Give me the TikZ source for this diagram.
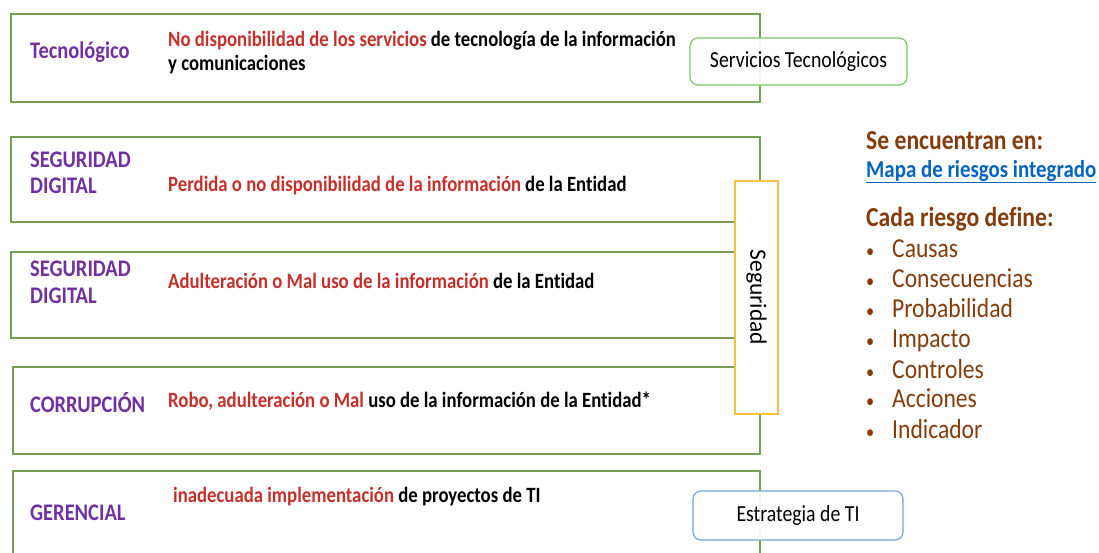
\documentclass[tikz,border=0pt]{standalone}
\usepackage{fontspec}
\setmainfont[FakeStretch=0.86,Ligatures={NoCommon}]{Carlito}
\newfontfamily\plainfont[Ligatures={NoCommon}]{Carlito}
\definecolor{boxgreen}{RGB}{118,158,84}
\definecolor{labpurple}{RGB}{112,48,160}
\definecolor{riskred}{RGB}{196,48,43}
\definecolor{sidebrown}{RGB}{132,60,12}
\definecolor{linkblue}{RGB}{5,99,193}
\definecolor{svcgreen}{RGB}{125,200,105}
\definecolor{stratblue}{RGB}{115,165,220}
\definecolor{secyellow}{RGB}{248,192,64}
\begin{document}
\begin{tikzpicture}[x=1pt,y=-1pt,
  riskbox/.style={draw=boxgreen, line width=1.2pt, inner sep=0pt},
  catlabel/.style={anchor=base west, inner sep=0pt, text=labpurple, font=\fontsize{23.8}{26}\selectfont\bfseries},
  bodytxt/.style={anchor=base west, inner sep=0pt, font=\fontsize{21.8}{24}\selectfont\bfseries},
  tagbox/.style={rounded corners=8pt, line width=1.2pt, fill=white, fill opacity=0.9, text opacity=1, inner sep=0pt, font=\fontsize{23}{26}\selectfont},
  secbox/.style={draw=secyellow, line width=1.2pt, fill=white, inner sep=0pt, font=\plainfont\fontsize{23.5}{26}\selectfont},
  sidehead/.style={anchor=base west, inner sep=0pt, text=sidebrown, font=\fontsize{27.5}{30}\selectfont\bfseries},
  bulletdot/.style={anchor=base west, inner sep=0pt, text=sidebrown, font=\fontsize{19}{30}\selectfont},
  bullettxt/.style={anchor=base west, inner sep=0pt, text=sidebrown, font=\fontsize{27.4}{30}\selectfont}
]
\useasboundingbox (0,0) rectangle (1099,552);
\clip (0,0) rectangle (1099,552);

% risk boxes
\node[riskbox, minimum width=749pt, minimum height=88pt] (b1) at (385.5,58) {};
\node[riskbox, minimum width=749pt, minimum height=85pt] (b2) at (385.5,179.5) {};
\node[riskbox, minimum width=749pt, minimum height=86pt] (b3) at (385.5,295) {};
\node[riskbox, minimum width=747pt, minimum height=87pt] (b4) at (386.5,410.5) {};
\node[riskbox, minimum width=747pt, minimum height=99pt] (b5) at (386.5,520.5) {};

% category labels
\node[catlabel] (l1) at (30,58) {Tecnológico};
\node[catlabel] (l2a) at (30,167) {SEGURIDAD};
\node[catlabel] (l2b) at (30,193) {DIGITAL};
\node[catlabel] (l3a) at (30,276) {SEGURIDAD};
\node[catlabel] (l3b) at (30,303) {DIGITAL};
\node[catlabel] (l4) at (30,412) {CORRUPCIÓN};
\node[catlabel] (l5) at (30,520) {GERENCIAL};

% risk texts
\node[bodytxt] (t1a) at (168,46) {\textcolor{riskred}{No disponibilidad de los servicios} de tecnología de la información};
\node[bodytxt] (t1b) at (168,70) {y comunicaciones};
\node[bodytxt] (t2) at (168,191) {\textcolor{riskred}{Perdida o no disponibilidad de la información} de la Entidad};
\node[bodytxt] (t3) at (168,288) {\textcolor{riskred}{Adulteración o Mal uso de la información} de la Entidad};
\node[bodytxt] (t4) at (168,407) {\textcolor{riskred}{Robo, adulteración o Mal} uso de la información de la Entidad*};
\node[bodytxt] (t5) at (173,502) {\textcolor{riskred}{inadecuada implementación} de proyectos de TI};

% tags
\node[tagbox, draw=svcgreen, minimum width=217pt, minimum height=47pt] (svc) at (798.5,61.5) {Servicios Tecnológicos};
\node[tagbox, draw=stratblue, minimum width=210pt, minimum height=49pt] (strat) at (798,515.5) {Estrategia de TI};
\node[secbox, rotate=-90, minimum width=233pt, minimum height=43pt] (seg) at (756.5,297.5) {Seguridad};

% side text
\node[sidehead] (h1) at (866,149) {Se encuentran en:};
\node[anchor=base west, inner sep=0pt, text=linkblue, font=\fontsize{24.3}{28}\selectfont\bfseries] (map) at (866,177) {\underline{Mapa de riesgos integrado}};
\node[sidehead] (h2) at (866,226) {Cada riesgo define:};

\foreach \name/\txt/\yy in {c1/Causas/257, c2/Consecuencias/287, c3/Probabilidad/317, c4/Impacto/347, c5/Controles/378, c6/Acciones/407, c7/Indicador/438}{
  \node[bulletdot] (\name d) at (866,\yy) {•};
  \node[bullettxt] (\name) at (892,\yy) {\txt};
}
\end{tikzpicture}
\end{document}
